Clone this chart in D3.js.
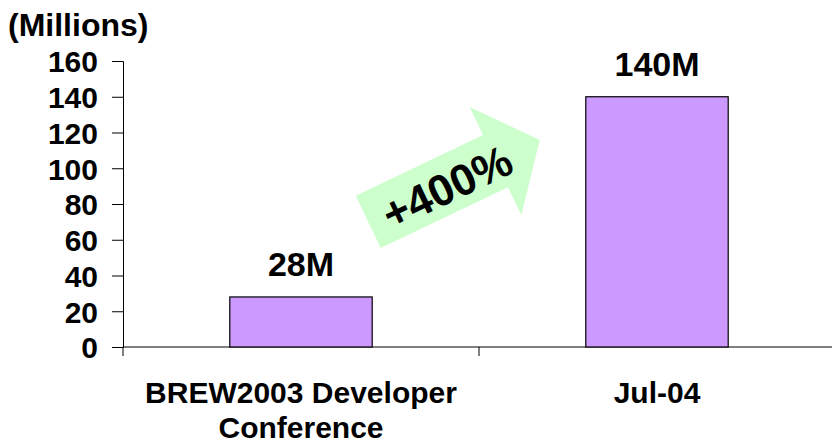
<!DOCTYPE html>
<html>
<head>
<meta charset="utf-8">
<script src="https://cdn.jsdelivr.net/npm/d3@7"></script>
<style>
  body { margin: 0; background: #fff; }
  text { font-family: "Liberation Sans", Arial, sans-serif; font-weight: bold; fill: #000; }
</style>
</head>
<body>
<svg></svg>
<script>
const categories = [['BREW2003 Developer', 'Conference'], ['Jul-04']]
const values = [28, 140]
const valueLabels = ['28M', '140M']
const yTicks = [0, 20, 40, 60, 80, 100, 120, 140, 160]
const growthLabel = '+400%'

const dims = { width: 832, height: 447 }
const margin = { top: 61, right: -3, bottom: 100, left: 123 }

const svg = d3.select('svg')
  .attr('width', dims.width)
  .attr('height', dims.height)

// band step ~356px, bar ~143px
const x = d3.scaleBand()
  .domain(d3.range(categories.length))
  .range([margin.left, dims.width - margin.right])
  .paddingInner(0.6)
  .paddingOuter(0.3)

const y = d3.scaleLinear()
  .domain([0, 160])
  .range([dims.height - margin.bottom, margin.top])

// axes
const yAxis = svg.append('g')
  .attr('transform', `translate(${margin.left},0)`)
  .call(d3.axisLeft(y).tickValues(yTicks).tickSize(11).tickPadding(14))
yAxis.selectAll('text').attr('font-size', 30).attr('dy', '0.36em')
yAxis.selectAll('line, .domain').attr('stroke', '#000')

const band = x.step()
const xAxis = svg.append('g')
  .attr('transform', `translate(0,${y(0)})`)
xAxis.append('line')
  .attr('x1', margin.left).attr('x2', dims.width)
  .attr('stroke', '#000')
xAxis.selectAll('.tick').data(d3.range(categories.length + 1))
  .enter().append('line')
    .attr('x1', d => margin.left + d * band)
    .attr('x2', d => margin.left + d * band)
    .attr('y2', 9)
    .attr('stroke', '#000')

const catLabels = svg.append('g').selectAll('text').data(categories)
  .enter().append('text')
    .attr('text-anchor', 'middle')
    .attr('font-size', 30)
    .attr('x', (d, i) => x(i) + x.bandwidth() / 2)
    .attr('y', 403)
catLabels.selectAll('tspan').data(d => d)
  .enter().append('tspan')
    .attr('x', function () { return this.parentNode.getAttribute('x') })
    .attr('dy', (d, i) => i ? 35 : 0)
    .text(d => d)

// bars
svg.append('g').selectAll('rect').data(values)
  .enter().append('rect')
    .attr('x', (d, i) => x(i))
    .attr('y', d => y(d))
    .attr('width', x.bandwidth())
    .attr('height', d => y(0) - y(d))
    .attr('fill', '#cc99ff')
    .attr('stroke', '#000')
    .attr('stroke-width', 1.2)

svg.append('g').selectAll('text').data(values)
  .enter().append('text')
    .attr('text-anchor', 'middle')
    .attr('font-size', 34)
    .attr('x', (d, i) => x(i) + x.bandwidth() / 2)
    .attr('y', d => y(d) - 21)
    .text((d, i) => valueLabels[i])

// title
svg.append('text')
  .attr('x', 8)
  .attr('y', 36)
  .attr('font-size', 32)
  .text('(Millions)')

// growth arrow
const arrow = svg.append('g')
  .attr('transform', 'translate(454,181) rotate(-25.5)')
arrow.append('path')
  .attr('d', 'M-95,-29 L46,-29 L46,-60 L95,0 L46,60 L46,29 L-95,29 Z')
  .attr('fill', '#ccffcc')
arrow.append('text')
  .attr('text-anchor', 'middle')
  .attr('font-size', 44)
  .attr('x', -9)
  .attr('y', 18)
  .text(growthLabel)
</script>
</body>
</html>
